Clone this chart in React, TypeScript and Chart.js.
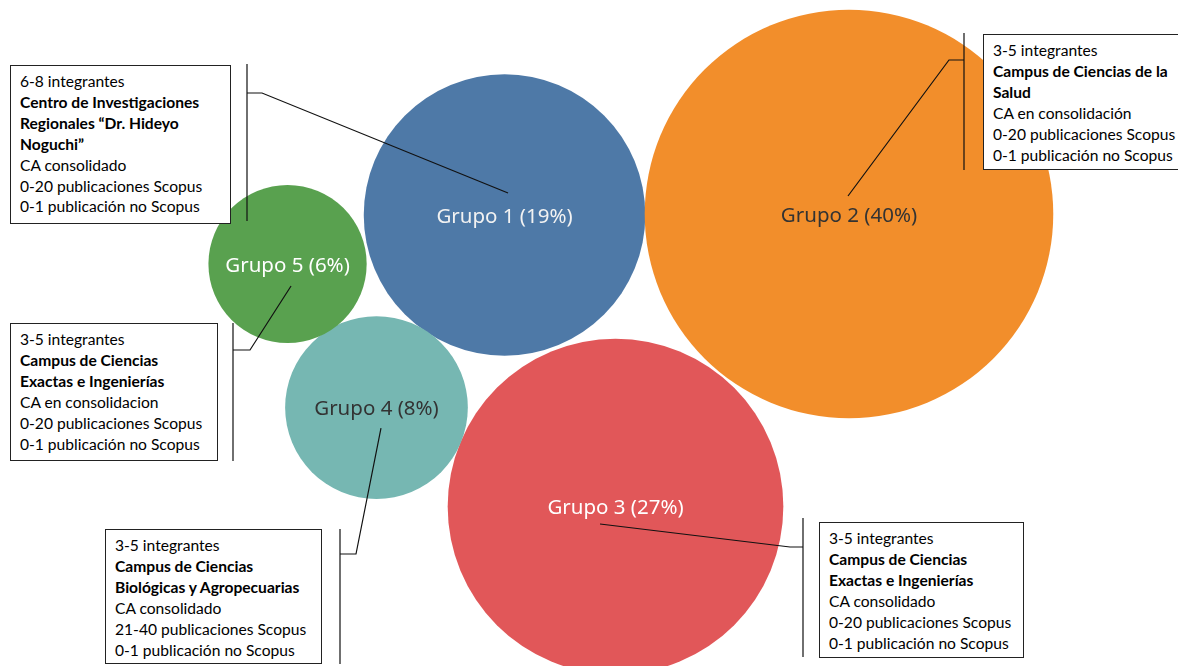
import React, { useEffect, useRef } from "react";
import { Chart, registerables } from "chart.js";
Chart.register(...registerables);

// ---- data ----
const groups = ["Grupo 1", "Grupo 2", "Grupo 3", "Grupo 4", "Grupo 5"];
const shares = [19, 40, 27, 8, 6];
const posX = [42.83, 72.07, 52.25, 31.96, 24.41];
const posY = [67.72, 67.87, 23.95, 38.81, 60.36];
const colors = ["#4E79A7", "#F28E2B", "#E15759", "#76B7B2", "#59A14F"];
const labelColors = ["#f2f2f2", "#333333", "#ffffff", "#333333", "#ffffff"];

const members = ["6-8 integrantes", "3-5 integrantes", "3-5 integrantes", "3-5 integrantes", "3-5 integrantes"];
const campus = [
  ["Centro de Investigaciones", "Regionales “Dr. Hideyo", "Noguchi”"],
  ["Campus de Ciencias de la", "Salud"],
  ["Campus de Ciencias", "Exactas e Ingenierías"],
  ["Campus de Ciencias", "Biológicas y Agropecuarias"],
  ["Campus de Ciencias", "Exactas e Ingenierías"],
];
const caStatus = ["CA consolidado", "CA en consolidación", "CA consolidado", "CA consolidado", "CA en consolidacion"];
const scopus = ["0-20 publicaciones Scopus", "0-20 publicaciones Scopus", "0-20 publicaciones Scopus", "21-40 publicaciones Scopus", "0-20 publicaciones Scopus"];
const nonScopus = ["0-1 publicación no Scopus", "0-1 publicación no Scopus", "0-1 publicación no Scopus", "0-1 publicación no Scopus", "0-1 publicación no Scopus"];

// ---- layout (pixels) ----
const W = 1178;
const H = 666;
const RADIUS_K = 32.3;
const boxes = [
  { left: 10, top: 65, width: 221, height: 159 },
  { left: 983, top: 34, width: 220, height: 136 },
  { left: 819, top: 522, width: 205, height: 136 },
  { left: 105, top: 529, width: 217, height: 135 },
  { left: 10, top: 323, width: 208, height: 138 },
];
// bracket: x, y1, y2, elbow y, elbow end x ; anchor offset from bubble center
const leaders = [
  { bx: 247, y1: 64, y2: 221, ey: 93, ex: 262, dx: 3.5, dy: -22 },
  { bx: 964, y1: 33, y2: 170, ey: 60, ex: 949, dx: -1, dy: -18 },
  { bx: 803, y1: 518, y2: 657, ey: 547, ex: 790, dx: -15.5, dy: 17.5 },
  { bx: 340, y1: 529, y2: 664, ey: 554, ex: 356, dx: 4.5, dy: 20.5 },
  { bx: 233, y1: 323, y2: 461, ey: 350, ex: 250, dx: 3.5, dy: 22 },
];

const overlayPlugin = {
  id: "overlay",
  afterDatasetsDraw(chart: any) {
    const ctx = chart.ctx;
    const meta = chart.getDatasetMeta(0);
    ctx.save();
    ctx.strokeStyle = "#111";
    ctx.lineWidth = 1.2;
    leaders.forEach((l, i) => {
      const el = meta.data[i];
      ctx.beginPath();
      ctx.moveTo(l.bx, l.y1);
      ctx.lineTo(l.bx, l.y2);
      ctx.moveTo(l.bx, l.ey);
      ctx.lineTo(l.ex, l.ey);
      ctx.lineTo(el.x + l.dx, el.y + l.dy);
      ctx.stroke();
    });
    ctx.font = "20.5px 'Noto Sans'";
    ctx.textAlign = "center";
    ctx.textBaseline = "middle";
    groups.forEach((g, i) => {
      const el = meta.data[i];
      ctx.fillStyle = labelColors[i];
      ctx.fillText(`${g} (${shares[i]}%)`, el.x, el.y + 2);
    });
    ctx.restore();
  },
};

export default function App() {
  const ref = useRef<HTMLCanvasElement>(null);
  useEffect(() => {
    if (!ref.current) return;
    const chart = new Chart(ref.current, {
      type: "bubble",
      data: {
        datasets: [
          {
            label: "Grupos",
            data: groups.map((g, i) => ({ x: posX[i], y: posY[i], r: RADIUS_K * Math.sqrt(shares[i]) })),
            backgroundColor: colors,
            borderWidth: 0,
            hoverBorderWidth: 0,
            clip: false as any,
          },
        ],
      },
      options: {
        responsive: false,
        animation: false,
        events: [],
        layout: { padding: 0, autoPadding: false } as any,
        plugins: { legend: { display: false }, tooltip: { enabled: false } },
        scales: {
          x: { type: "linear", min: 0, max: 100, display: false },
          y: { type: "linear", min: 0, max: 100, display: false },
        },
      },
      plugins: [overlayPlugin],
    });
    return () => chart.destroy();
  }, []);

  return (
    <div style={{ position: "fixed", left: 0, top: 0, width: W, height: H, overflow: "hidden", background: "#fff" }}>
      <canvas ref={ref} width={W} height={H} style={{ position: "absolute", left: 0, top: 0 }} />
      {boxes.map((b, i) => (
        <div
          key={i}
          style={{
            position: "absolute",
            left: b.left,
            top: b.top,
            width: b.width,
            height: b.height,
            boxSizing: "border-box",
            border: "1.3px solid #222",
            background: "#fff",
            padding: "5px 0 0 9px",
            fontFamily: "Lato, 'Open Sans', sans-serif",
            fontSize: 15.6,
            lineHeight: "20.9px",
            color: "#000",
            whiteSpace: "nowrap",
          }}
        >
          <div>{members[i]}</div>
          {campus[i].map((c, j) => (
            <div key={j} style={{ fontWeight: 700 }}>{c}</div>
          ))}
          <div>{caStatus[i]}</div>
          <div>{scopus[i]}</div>
          <div>{nonScopus[i]}</div>
        </div>
      ))}
    </div>
  );
}
